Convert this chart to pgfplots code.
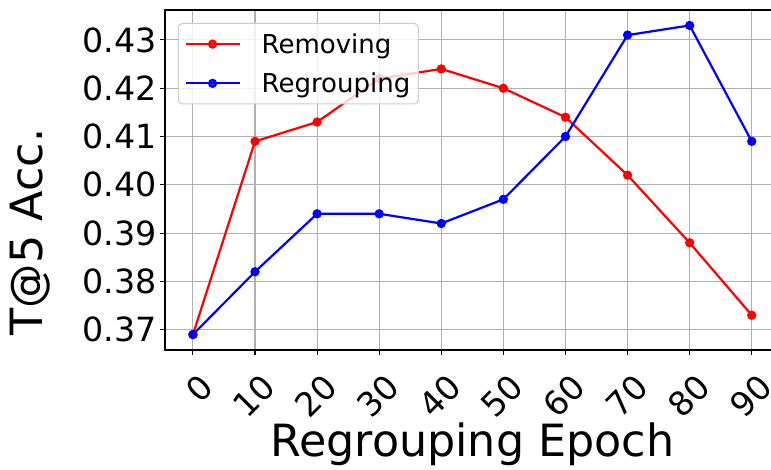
\documentclass[border=0pt]{standalone}
\usepackage{pgfplots}
\pgfplotsset{compat=1.18}
\usepackage{fontspec}
\setmainfont{DejaVu Sans}
\definecolor{gridgray}{RGB}{176,176,176}
\definecolor{legframe}{RGB}{204,204,204}
\begin{document}
\begin{tikzpicture}
\begin{axis}[
  at={(0,0)}, anchor=south west,
  scale only axis, width=614.7pt, height=340pt,
  xmin=-4.5, xmax=94.5, ymin=0.3658, ymax=0.4362,
  xtick={0,10,20,30,40,50,60,70,80,90},
  ytick={0.37,0.38,0.39,0.40,0.41,0.42,0.43},
  /pgf/number format/assume math mode=true,
  yticklabel style={/pgf/number format/fixed, /pgf/number format/precision=2, /pgf/number format/fixed zerofill},
  scaled y ticks=false,
  tick label style={font=\fontsize{33.3}{40}\selectfont},
  xticklabel style={inner sep=0pt, xshift=5pt, yshift=-17pt, rotate=45, anchor=north east},
  tick align=outside, tick pos=left,
  major tick length=5pt,
  every tick/.style={black, line width=1.1pt},
  axis line style={line width=1.1pt},
  grid=major,
  major grid style={gridgray, line width=1.1pt},
  xlabel={Regrouping Epoch},
  ylabel={T@5 Acc.},
  label style={font=\fontsize{44.4}{50}\selectfont},
  xlabel style={at={(axis description cs:0.5,-0.3147)}, anchor=base},
  ylabel style={at={(axis description cs:-0.2196,0.347)}, anchor=center, rotate=0},
  legend style={at={(axis description cs:0.0211,0.9618)}, anchor=north west,
    font=\fontsize{26}{31}\selectfont, draw=legframe, rounded corners=4pt,
    fill=white, fill opacity=0.8, text opacity=1, line width=1pt,
    row sep=14pt, column sep=19pt, inner xsep=6pt, inner ysep=8pt},
  legend cell align=left,
  legend image code/.code={\draw[mark repeat=2,mark phase=2] plot coordinates {(0pt,0pt) (27pt,0pt) (54pt,0pt)};},
]
\addplot[red, line width=2.2pt, mark=*, mark size=3.5pt] coordinates {
(0,0.369) (10,0.409) (20,0.413) (30,0.422) (40,0.424) (50,0.420) (60,0.414) (70,0.402) (80,0.388) (90,0.373)};
\addlegendentry{Removing}
\addplot[blue, line width=2.2pt, mark=*, mark size=3.5pt] coordinates {
(0,0.369) (10,0.382) (20,0.394) (30,0.394) (40,0.392) (50,0.397) (60,0.410) (70,0.431) (80,0.433) (90,0.409)};
\addlegendentry{Regrouping}
\end{axis}
\pgfresetboundingbox
\useasboundingbox (-165pt,-120pt) rectangle (606pt,350pt);
\end{tikzpicture}
\end{document}
